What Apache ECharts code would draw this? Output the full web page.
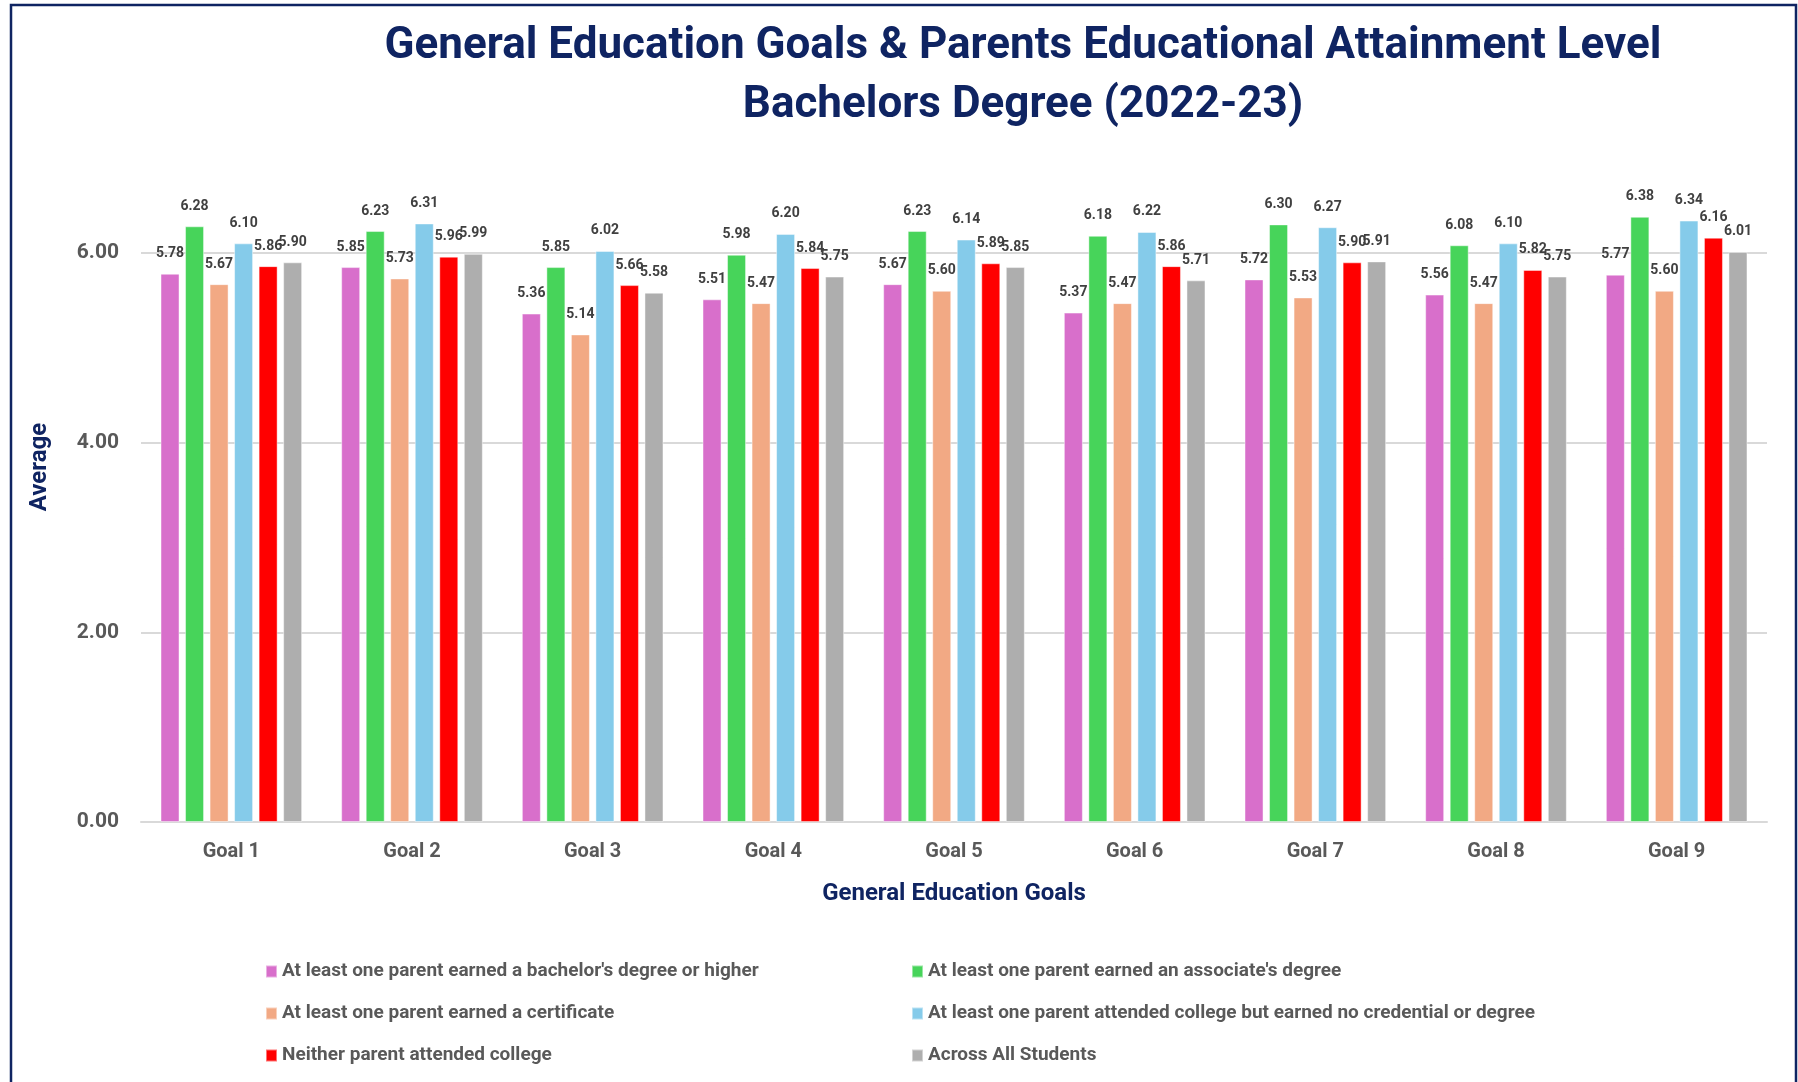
<!DOCTYPE html>
<html>
<head>
<meta charset="utf-8">
<script src="https://cdn.jsdelivr.net/npm/echarts@6/dist/echarts.min.js"></script>
<style>
html,body{margin:0;padding:0;background:#fff;}
#chart{width:1798px;height:1082px;}
</style>
</head>
<body>
<div id="chart"></div>
<script>
const titleText = "General Education Goals & Parents Educational Attainment Level\nBachelors Degree (2022-23)";
const categories = ["Goal 1","Goal 2","Goal 3","Goal 4","Goal 5","Goal 6","Goal 7","Goal 8","Goal 9"];
const seriesNames = [
  "At least one parent earned a bachelor's degree or higher",
  "At least one parent earned an associate's degree",
  "At least one parent earned a certificate",
  "At least one parent attended college but earned no credential or degree",
  "Neither parent attended college",
  "Across All Students"
];
const bachelors   = [5.78, 5.85, 5.36, 5.51, 5.67, 5.37, 5.72, 5.56, 5.77];
const associates  = [6.28, 6.23, 5.85, 5.98, 6.23, 6.18, 6.30, 6.08, 6.38];
const certificate = [5.67, 5.73, 5.14, 5.47, 5.60, 5.47, 5.53, 5.47, 5.60];
const noCredential= [6.10, 6.31, 6.02, 6.20, 6.14, 6.22, 6.27, 6.10, 6.34];
const neither     = [5.86, 5.96, 5.66, 5.84, 5.89, 5.86, 5.90, 5.82, 6.16];
const allStudents = [5.90, 5.99, 5.58, 5.75, 5.85, 5.71, 5.91, 5.75, 6.01];
const colors = ["#D86FCB", "#47D45A", "#F2A984", "#85CBEA", "#FF0000", "#AEAEAE"];
const seriesData = [bachelors, associates, certificate, noCredential, neither, allStudents];

const FONT = "Roboto";
const chart = echarts.init(document.getElementById('chart'), null, {renderer: 'canvas'});

const series = seriesData.map((d, i) => ({
  name: seriesNames[i],
  type: 'bar',
  data: d,
  barGap: '29%',
  barCategoryGap: '21.6%',
  itemStyle: { color: colors[i], borderColor: 'rgba(255,255,255,0.45)', borderWidth: 1 },
  label: {
    show: true,
    position: 'top',
    distance: 13,
    formatter: p => p.value.toFixed(2),
    color: '#404040',
    fontFamily: FONT,
    fontWeight: 'bold',
    fontSize: 14
  },
  emphasis: { disabled: true }
}));

const legendCommon = {
  orient: 'vertical',
  itemWidth: 11,
  itemHeight: 12,
  itemGap: 23,
  icon: 'rect',
  selectedMode: false,
  textStyle: { color: '#595959', fontFamily: FONT, fontWeight: 'bold', fontSize: 19 }
};

chart.setOption({
  animation: false,
  backgroundColor: '#ffffff',
  color: colors,
  title: {
    text: titleText,
    left: 1018,
    top: 12,
    textAlign: 'center',
    textStyle: {
      color: '#0F2462',
      fontFamily: FONT,
      fontWeight: 'bold',
      fontSize: 44,
      lineHeight: 59
    }
  },
  legend: [
    Object.assign({}, legendCommon, { left: 260, top: 957, data: [seriesNames[0], seriesNames[2], seriesNames[4]] }),
    Object.assign({}, legendCommon, { left: 906, top: 957, data: [seriesNames[1], seriesNames[3], seriesNames[5]] })
  ],
  grid: { left: 141, right: 31, top: 158, bottom: 260, containLabel: false },
  xAxis: {
    type: 'category',
    data: categories,
    name: 'General Education Goals',
    nameLocation: 'middle',
    nameGap: 60,
    nameTextStyle: { color: '#0F2462', fontFamily: FONT, fontWeight: 'bold', fontSize: 24 },
    axisLine: { show: true, lineStyle: { color: '#D9D9D9', width: 2 } },
    axisTick: { show: false },
    axisLabel: { color: '#595959', fontFamily: FONT, fontWeight: 'bold', fontSize: 20, margin: 20 }
  },
  yAxis: {
    type: 'value',
    min: 0,
    max: 7,
    interval: 2,
    axisLine: { show: false },
    axisTick: { show: false },
    splitLine: { show: true, showMaxLine: false, lineStyle: { color: '#D9D9D9', width: 2 } },
    axisLabel: {
      color: '#595959', fontFamily: FONT, fontWeight: 'bold', fontSize: 21, margin: 22,
      showMaxLabel: false,
      formatter: v => (v > 6.5 ? '' : v.toFixed(2))
    }
  },
  graphic: [
    {
      type: 'text',
      x: 40, y: 467,
      rotation: Math.PI / 2,
      style: {
        text: 'Average',
        fill: '#0F2462',
        font: 'bold 24px Roboto',
        align: 'center',
        verticalAlign: 'middle'
      }
    },
    {
      type: 'polyline',
      shape: { points: [[11, 1082], [11, 5], [1796, 5], [1796, 1082]] },
      style: { stroke: '#0F2462', lineWidth: 2.5, fill: null },
      silent: true
    }
  ],
  series: series
});
</script>
</body>
</html>
